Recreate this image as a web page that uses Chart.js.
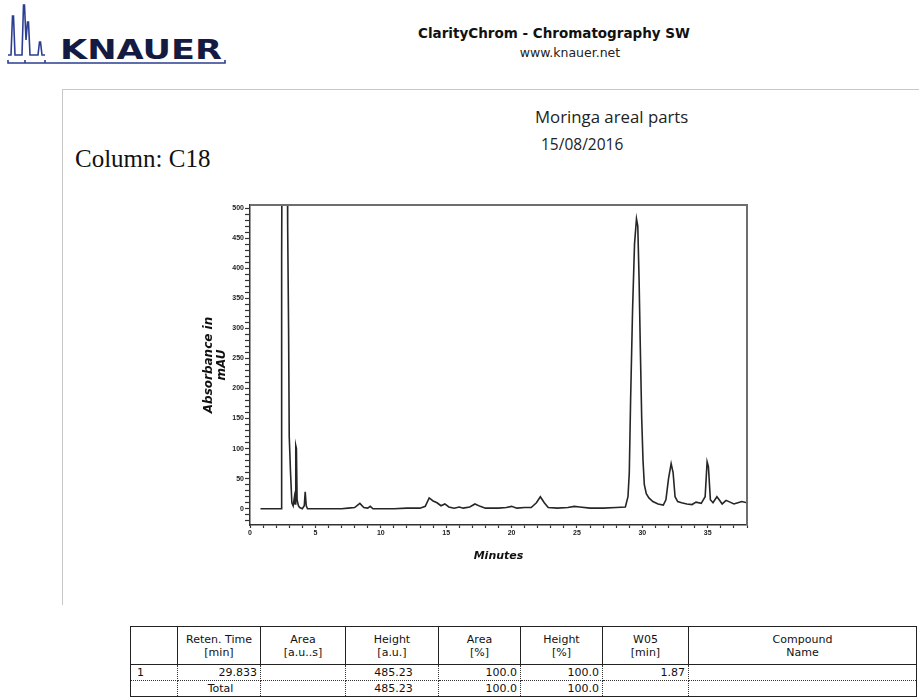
<!DOCTYPE html>
<html>
<head>
<meta charset="utf-8">
<script src="https://cdn.jsdelivr.net/npm/chart.js@4.4.1/dist/chart.umd.min.js"></script>
<style>
  html, body { margin: 0; padding: 0; background: #fff; }
  body { width: 919px; height: 699px; position: relative; overflow: hidden; font-family: "DejaVu Sans", sans-serif; }
  .abs { position: absolute; white-space: nowrap; }
  #hdrTitle { left: 379px; width: 350px; top: 25px; text-align: center; font: bold 13.5px "DejaVu Sans", sans-serif; color: #111; }
  #hdrUrl { left: 395px; width: 350px; top: 45px; text-align: center; font: 12.5px "DejaVu Sans", sans-serif; color: #222; }
  #hline { left: 62px; top: 89px; width: 857px; height: 0; border-top: 1px solid #c8c8c8; }
  #vline { left: 62px; top: 89px; width: 0; height: 516px; border-left: 1px solid #c8c8c8; }
  #sample { left: 535px; top: 105px; font: 16.8px "Open Sans", sans-serif; color: #222; }
  #date { left: 541px; top: 133px; font: 15.5px "Open Sans", sans-serif; color: #222; }
  #column { left: 75px; top: 145px; font: 25px "Liberation Serif", serif; color: #111; }
  #chartBox { left: 200px; top: 190px; width: 570px; height: 380px; }
  table { position: absolute; left: 130px; top: 626px; width: 786px; border-collapse: collapse; font: 11px "DejaVu Sans", sans-serif; color: #111; table-layout: fixed; }
  th { font-weight: normal; height: 37px; border: 1px solid #222; line-height: 13px; padding: 0; }
  td { height: 15px; padding: 0 3px 0 6px; border-left: 1px dotted #333; border-right: 1px dotted #333; border-bottom: 1px dotted #333; line-height: 14px; }
  tr:last-child td { border-bottom: 1px solid #222; }
  td:first-child { border-left: 1px solid #222; }
  td:last-child { border-right: 1px solid #222; }
  .r { text-align: right; }
  .c { text-align: center; }
</style>
</head>
<body>
<svg class="abs" style="left:0;top:0" width="240" height="72">
  <path d="M8 55 L11 55 L12.5 16 L13.5 16 L15 55 L22 55 L23.5 5 L24.5 5 L26 40 L27.5 22 L28.5 22 L30 55 L38 55 L39.5 42 L40.5 42 L42 55 L45 55"
        fill="none" stroke="#2c3e91" stroke-width="1.6"/>
  <path d="M8 60 L8 63 L225 63 L225 60 M25 63 L25 60 M45 63 L45 60" fill="none" stroke="#2c3e91" stroke-width="1.6"/>
  <text x="60" y="58.5" font-family="DejaVu Sans" font-weight="bold" font-size="27" fill="#151a42"
        textLength="162" lengthAdjust="spacingAndGlyphs">KNAUER</text>
</svg>
<div id="hdrTitle" class="abs">ClarityChrom - Chromatography SW</div>
<div id="hdrUrl" class="abs">www.knauer.net</div>
<div id="hline" class="abs"></div>
<div id="vline" class="abs"></div>
<div id="sample" class="abs">Moringa areal parts</div>
<div id="date" class="abs">15/08/2016</div>
<div id="column" class="abs">Column: C18</div>
<div id="chartBox" class="abs"><canvas id="chrom"></canvas></div>

<table>
  <colgroup>
    <col style="width:47px"><col style="width:83px"><col style="width:85px"><col style="width:93px">
    <col style="width:82px"><col style="width:82px"><col style="width:86px"><col style="width:228px">
  </colgroup>
  <tr>
    <th></th><th>Reten. Time<br>[min]</th><th>Area<br>[a.u..s]</th><th>Height<br>[a.u.]</th>
    <th>Area<br>[%]</th><th>Height<br>[%]</th><th>W05<br>[min]</th><th>Compound<br>Name</th>
  </tr>
  <tr>
    <td>1</td><td class="r">29.833</td><td></td><td class="c">485.23</td>
    <td class="r">100.0</td><td class="r">100.0</td><td class="r">1.87</td><td></td>
  </tr>
  <tr>
    <td></td><td class="c">Total</td><td></td><td class="c">485.23</td>
    <td class="r">100.0</td><td class="r">100.0</td><td></td><td></td>
  </tr>
</table>

<script>
// retention time (min) and detector signal (mAU)
const retentionMinutes = [
  0.8, 2.4, 2.42, 2.45, 2.85, 2.88, 2.95, 3.0, 3.1, 3.2, 3.3, 3.4, 3.45, 3.5, 3.55, 3.6, 3.7, 3.8,
  4.0, 4.15, 4.22, 4.3, 4.4, 5.0, 6.0, 7.0, 7.5, 8.0, 8.4, 8.7, 9.0, 9.2, 9.4, 10.0, 11.0, 12.0,
  13.0, 13.4, 13.7, 14.0, 14.3, 14.6, 14.9, 15.2, 15.6, 16.0, 16.3, 16.8, 17.2, 17.6, 18.0, 19.0,
  19.6, 20.0, 20.4, 21.0, 21.5, 21.9, 22.2, 22.5, 22.8, 23.5, 24.3, 24.8, 25.2, 26.0, 27.0, 28.0,
  28.7, 28.9, 29.0, 29.1, 29.25, 29.4, 29.55, 29.65, 29.75, 29.85, 29.95, 30.05, 30.15, 30.3,
  30.5, 30.8, 31.2, 31.6, 31.8, 32.0, 32.2, 32.35, 32.5, 32.7, 33.0, 33.4, 33.8, 34.1, 34.5,
  34.8, 34.95, 35.05, 35.2, 35.4, 35.7, 35.9, 36.1, 36.4, 36.7, 37.0, 37.3, 37.6, 38.0
];
const absorbanceMAU = [
  0, 0, 420, 600, 600, 470, 300, 120, 60, 10, 5, 20, 8, 105, 100, 15, 5, 2,
  0, 5, 28, 5, 0, 0, 0, 0, 1, 2, 9, 2, 1, 4, 0, 0, 0, 1,
  1, 4, 18, 13, 10, 5, 8, 3, 1, 3, 1, 3, 8, 4, 1, 1,
  2, 4, 1, 2, 2, 10, 20, 10, 2, 1, 2, 4, 3, 1, 1, 2,
  3, 20, 60, 180, 330, 440, 482, 470, 380, 260, 150, 80, 40, 25,
  18, 12, 8, 6, 15, 50, 75, 60, 20, 12, 10, 8, 7, 11, 9,
  20, 78, 70, 15, 10, 20, 14, 8, 14, 11, 8, 10, 12, 10
];
const xLabelTicks = [0, 5, 10, 15, 20, 25, 30, 35];
const yLabelTicks = [0, 50, 100, 150, 200, 250, 300, 350, 400, 450, 500];

const points = retentionMinutes.map((t, i) => ({ x: t, y: absorbanceMAU[i] }));

// grey frame on top and right of plot, like the ClarityChrom printout
const framePlugin = {
  id: "frame",
  afterDraw(chart) {
    const a = chart.chartArea, ctx = chart.ctx;
    ctx.save();
    ctx.strokeStyle = "#6e6e6e";
    ctx.lineWidth = 2;
    ctx.beginPath();
    ctx.moveTo(a.left, a.top);
    ctx.lineTo(a.right, a.top);
    ctx.lineTo(a.right, a.bottom);
    ctx.stroke();
    ctx.restore();
  }
};

const tickFont = { family: "Liberation Sans", size: 7, weight: "bold" };

new Chart(document.getElementById("chrom"), {
  type: "line",
  data: {
    datasets: [{
      data: points,
      borderColor: "#262626",
      borderWidth: 1.6,
      pointRadius: 0,
      tension: 0,
      fill: false
    }]
  },
  options: {
    responsive: true,
    maintainAspectRatio: false,
    animation: false,
    layout: { padding: { top: 15, right: 23, left: 0, bottom: 0 } },
    plugins: { legend: { display: false }, tooltip: { enabled: false } },
    scales: {
      x: {
        type: "linear",
        min: 0,
        max: 38,
        afterFit: s => { s.height = 45; },
        border: { color: "#333", width: 1.5 },
        grid: { drawOnChartArea: false, tickLength: 3, tickWidth: 1.2, color: "#333" },
        ticks: {
          stepSize: 1,
          autoSkip: false,
          maxRotation: 0,
          includeBounds: false,
          padding: 1,
          color: "#222",
          font: tickFont,
          callback: v => xLabelTicks.includes(v) ? String(v) : ""
        },
        title: {
          display: true,
          text: "Minutes",
          color: "#111",
          font: { family: "DejaVu Sans", size: 11, weight: "bold", style: "italic" },
          padding: { top: 0, bottom: 7 }
        }
      },
      y: {
        min: -27,
        max: 505,
        afterFit: s => { s.width = 50; },
        border: { color: "#333", width: 1.5 },
        grid: { drawOnChartArea: false, tickLength: 5, tickWidth: 1.2, color: "#333" },
        ticks: {
          stepSize: 10,
          autoSkip: false,
          includeBounds: false,
          padding: 1,
          color: "#222",
          font: tickFont,
          callback: v => yLabelTicks.includes(v) ? String(v) : ""
        },
        title: {
          display: true,
          text: ["Absorbance in", "mAU"],
          color: "#111",
          font: { family: "DejaVu Sans", size: 12, weight: "bold", style: "italic", lineHeight: 1.05 },
          padding: { top: 3, bottom: 0 }
        }
      }
    }
  },
  plugins: [framePlugin]
});
</script>
</body>
</html>
